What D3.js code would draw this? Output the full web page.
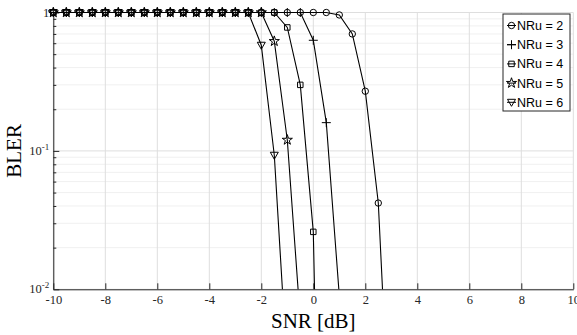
<!DOCTYPE html>
<html lang="en">
  <head>
    <meta charset="utf-8">
    <title>BLER vs SNR</title>
    <script src="https://cdn.jsdelivr.net/npm/d3@7"></script>
    <style>
      body { margin: 0; background: #fff; }
      svg { display: block; }
    </style>
  </head>
  <body>
    <script>

      var w = 577;
      var h = 335;

      // SNR points in dB
      var snr = [-10, -9.5, -9, -8.5, -8, -7.5, -7, -6.5, -6, -5.5, -5, -4.5, -4, -3.5,
                 -3, -2.5, -2, -1.5, -1, -0.5, 0, 0.5, 1, 1.5, 2, 2.5, 3];

      // BLER per series (index matches snr)
      var nru2 = [1, 1, 1, 1, 1, 1, 1, 1, 1, 1, 1, 1, 1, 1, 1, 1, 1, 1, 1, 1, 1, 1,
                  0.96, 0.70, 0.27, 0.042, 0.0005];
      var nru3 = [1, 1, 1, 1, 1, 1, 1, 1, 1, 1, 1, 1, 1, 1, 1, 1, 1, 1, 1, 1,
                  0.63, 0.16, 0.009];
      var nru4 = [1, 1, 1, 1, 1, 1, 1, 1, 1, 1, 1, 1, 1, 1, 1, 1, 1, 1,
                  0.78, 0.30, 0.026, 0.000001];
      var nru5 = [1, 1, 1, 1, 1, 1, 1, 1, 1, 1, 1, 1, 1, 1, 1, 1, 1,
                  0.62, 0.12, 0.006];
      var nru6 = [1, 1, 1, 1, 1, 1, 1, 1, 1, 1, 1, 1, 1, 1, 1, 1,
                  0.58, 0.093, 0.0026];

      var names = ["NRu = 2", "NRu = 3", "NRu = 4", "NRu = 5", "NRu = 6"];
      var markers = ["circle", "plus", "square", "star", "triangle"];

      var xTicks = [-10, -8, -6, -4, -2, 0, 2, 4, 6, 8, 10];
      var yMajor = [0.01, 0.1, 1];
      var yTickLabels = [["10", "-2"], ["10", "-1"], ["1", ""]];

      var allSeries = [nru2, nru3, nru4, nru5, nru6].map(function(vals, i) {
        return {
          name: names[i],
          marker: markers[i],
          points: vals.map(function(v, j) { return { x: snr[j], y: v }; })
        };
      });

      var pLeft = 53.3, pRight = 573.3, pTop = 12.5, pBottom = 289.3;
      var serif = "'Liberation Serif', 'Times New Roman', serif";

      var xScale = d3.scaleLinear().domain([-10, 10]).range([pLeft, pRight]);
      var yScale = d3.scaleLog().domain([0.01, 1]).range([pBottom, pTop]);

      var svg = d3.select("body").append("svg")
                  .attr("width", w)
                  .attr("height", h);

      // minor y values 2..9 x 10^k
      var yMinor = [];
      [0.01, 0.1].forEach(function(d) {
        for (var k = 2; k <= 9; k++) yMinor.push(d * k);
      });

      // grid
      var grid = svg.append("g");
      grid.selectAll(".ymin").data(yMinor).enter().append("line")
          .attr("x1", pLeft).attr("x2", pRight)
          .attr("y1", function(d) { return yScale(d); })
          .attr("y2", function(d) { return yScale(d); })
          .attr("stroke", "#f0f0f0").attr("stroke-width", 1);
      grid.selectAll(".ymaj").data(yMajor).enter().append("line")
          .attr("x1", pLeft).attr("x2", pRight)
          .attr("y1", function(d) { return yScale(d); })
          .attr("y2", function(d) { return yScale(d); })
          .attr("stroke", "#dedede").attr("stroke-width", 1);
      grid.selectAll(".xg").data(xTicks).enter().append("line")
          .attr("x1", function(d) { return xScale(d); })
          .attr("x2", function(d) { return xScale(d); })
          .attr("y1", pTop).attr("y2", pBottom)
          .attr("stroke", "#dedede").attr("stroke-width", 1);

      // axes
      var xAxis = d3.axisBottom(xScale).tickValues(xTicks)
                    .tickSize(-6).tickSizeOuter(0).tickPadding(6)
                    .tickFormat(function(d) { return String(d); });
      var gx = svg.append("g").attr("transform", "translate(0," + pBottom + ")").call(xAxis);
      gx.selectAll("text").attr("font-family", serif)
        .attr("font-size", "12.5px").attr("fill", "#262626");

      var yAxisMinor = d3.axisLeft(yScale).tickValues(yMinor)
                         .tickSize(-3).tickSizeOuter(0).tickFormat("");
      svg.append("g").attr("transform", "translate(" + pLeft + ",0)").call(yAxisMinor)
         .select(".domain").remove();

      var yAxis = d3.axisLeft(yScale).tickValues(yMajor)
                    .tickSize(-6).tickSizeOuter(0).tickFormat("");
      svg.append("g").attr("transform", "translate(" + pLeft + ",0)").call(yAxis);

      svg.selectAll(".domain, .tick line").attr("stroke", "#262626");

      var yl = svg.append("g").selectAll("text").data(yMajor).enter().append("text")
                  .attr("x", pLeft - 4)
                  .attr("y", function(d) { return yScale(d) + 4; })
                  .attr("text-anchor", "end")
                  .attr("font-family", serif)
                  .attr("font-size", "12.5px")
                  .attr("fill", "#262626");
      yl.each(function(d, i) {
        var t = d3.select(this);
        t.append("tspan").text(yTickLabels[i][0]);
        if (yTickLabels[i][1]) {
          t.append("tspan").attr("font-size", "9px").attr("dy", -5).text(yTickLabels[i][1]);
        }
      });

      // axis titles
      svg.append("text")
         .attr("x", (pLeft + pRight) / 2)
         .attr("y", 328)
         .attr("text-anchor", "middle")
         .attr("font-family", serif)
         .attr("font-size", "21px")
         .text("SNR [dB]");

      svg.append("text")
         .attr("transform", "translate(21," + ((pTop + pBottom) / 2) + ") rotate(-90)")
         .attr("text-anchor", "middle")
         .attr("font-family", serif)
         .attr("font-size", "21px")
         .text("BLER");

      // marker shapes
      function markerPath(type) {
        if (type === "circle") return d3.symbol(d3.symbolCircle, 32)();
        if (type === "square") return d3.symbol(d3.symbolSquare, 30)();
        if (type === "star") return d3.symbol(d3.symbolStar, 32)();
        if (type === "triangle") return "M-4,-3L4,-3L0,4Z";
        return "M-4.5,0H4.5M0,-4.5V4.5";
      }

      svg.append("clipPath").attr("id", "plotclip")
         .append("rect").attr("x", pLeft - 6).attr("y", pTop - 6)
         .attr("width", pRight - pLeft + 6).attr("height", pBottom - pTop + 6);

      var line = d3.line()
                   .x(function(d) { return xScale(d.x); })
                   .y(function(d) { return yScale(d.y); });

      var plot = svg.append("g").attr("clip-path", "url(#plotclip)");

      allSeries.forEach(function(s) {
        var g = plot.append("g");
        g.append("path")
         .datum(s.points)
         .attr("d", line)
         .attr("fill", "none")
         .attr("stroke", "#000")
         .attr("stroke-width", 1.1);
        g.selectAll("path.m")
         .data(s.points.filter(function(d) { return d.y >= 0.01; }))
         .enter().append("path")
         .attr("class", "m")
         .attr("d", markerPath(s.marker))
         .attr("transform", function(d) {
           return "translate(" + xScale(d.x) + "," + yScale(d.y) + ")";
         })
         .attr("fill", "none")
         .attr("stroke", "#000")
         .attr("stroke-width", 1);
      });

      // legend
      var legX = 503, legY = 14, legW = 67, legH = 97;
      var leg = svg.append("g");
      leg.append("rect")
         .attr("x", legX).attr("y", legY).attr("width", legW).attr("height", legH)
         .attr("fill", "#fff").attr("stroke", "#262626").attr("stroke-width", 1);

      var rows = leg.selectAll("g.row").data(allSeries).enter().append("g")
                    .attr("transform", function(d, i) {
                      return "translate(" + legX + "," + (legY + 11.5 + i * 19.2) + ")";
                    });
      rows.append("line")
          .attr("x1", 4).attr("x2", 13).attr("y1", 0).attr("y2", 0)
          .attr("stroke", "#000");
      rows.append("path")
          .attr("d", function(d) { return markerPath(d.marker); })
          .attr("transform", "translate(8.5,0)")
          .attr("fill", "none").attr("stroke", "#000");
      rows.append("text")
          .attr("x", 14).attr("y", 4.5)
          .attr("font-family", "'Liberation Sans', Arial, Helvetica, sans-serif")
          .attr("font-size", "12.5px")
          .text(function(d) { return d.name; });

    </script>
  </body>
</html>
